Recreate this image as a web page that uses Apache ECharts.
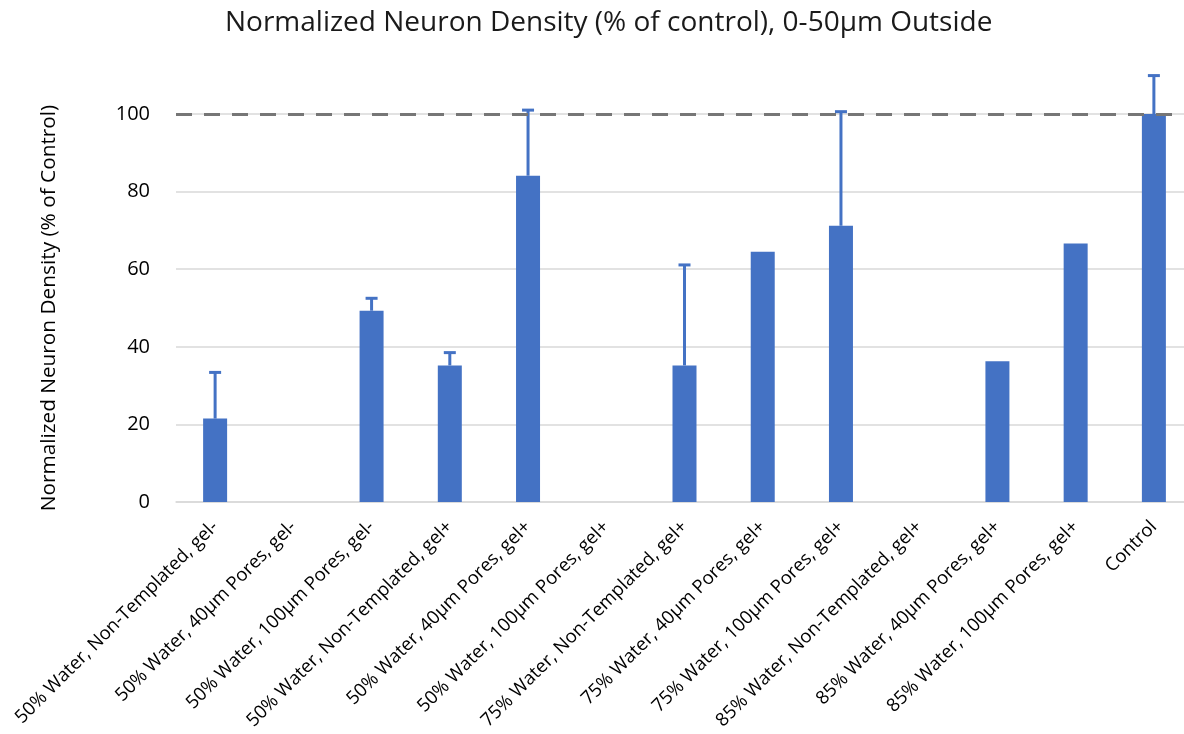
<!DOCTYPE html>
<html>
<head>
<meta charset="utf-8">
<script src="https://cdn.jsdelivr.net/npm/echarts@6/dist/echarts.min.js"></script>
<style>
  html, body { margin: 0; padding: 0; background: #fff; }
  #chart { width: 1184px; height: 734px; }
</style>
</head>
<body>
<div id="chart"></div>
<script>
// Groups along the x axis
const categories = [
  '50% Water, Non-Templated, gel-',
  '50% Water, 40µm Pores, gel-',
  '50% Water, 100µm Pores, gel-',
  '50% Water, Non-Templated, gel+',
  '50% Water, 40µm Pores, gel+',
  '50% Water, 100µm Pores, gel+',
  '75% Water, Non-Templated, gel+',
  '75% Water, 40µm Pores, gel+',
  '75% Water, 100µm Pores, gel+',
  '85% Water, Non-Templated, gel+',
  '85% Water, 40µm Pores, gel+',
  '85% Water, 100µm Pores, gel+',
  'Control'
];

// Mean normalized density (% of control); null = no data
const density = [21.5, null, 49.3, 35.2, 84.1, null, 35.2, 64.5, 71.2, null, 36.3, 66.6, 100];

// Upper end of the error bar; null = no error bar
const errorTop = [33.4, null, 52.5, 38.5, 101.0, null, 61.1, null, 100.6, null, null, null, 109.9];

// Reference level
const referenceLevel = 100;

const yTicks = [0, 20, 40, 60, 80, 100];

const barColor = '#4472C4';
const font = 'Open Sans';

const errorData = [];
density.forEach((v, i) => {
  if (v != null && errorTop[i] != null) errorData.push([i, v, errorTop[i]]);
});

const chart = echarts.init(document.getElementById('chart'), null, { renderer: 'canvas' });

chart.setOption({
  animation: false,
  backgroundColor: '#ffffff',
  title: {
    text: 'Normalized Neuron Density (% of control), 0-50µm Outside',
    left: 220,
    top: 4,
    textStyle: { fontFamily: font, fontSize: 28, fontWeight: 'normal', color: '#1a1a1a' }
  },
  // plot area runs slightly past the right edge of the canvas
  grid: { left: 176, width: 1017, top: 114, bottom: 232, containLabel: false, outerBoundsMode: 'none' },
  xAxis: {
    type: 'category',
    data: categories,
    axisLine: { show: true, lineStyle: { color: '#d9d9d9', width: 1.5 } },
    axisTick: { show: false },
    axisLabel: {
      interval: 0,
      rotate: 45,
      margin: 22,
      fontFamily: font,
      fontSize: 18.5,
      color: '#000000'
    }
  },
  yAxis: {
    type: 'value',
    min: yTicks[0],
    max: yTicks[yTicks.length - 1],
    interval: 20,
    name: 'Normalized Neuron Density (% of Control)',
    nameLocation: 'middle',
    nameGap: 116,
    nameTextStyle: { fontFamily: font, fontSize: 20.8, color: '#000000' },
    axisLine: { show: false },
    axisTick: { show: false },
    axisLabel: { margin: 26, fontFamily: font, fontSize: 20, color: '#000000' },
    splitLine: { show: true, lineStyle: { color: '#d9d9d9', width: 1.5 } }
  },
  series: [
    {
      type: 'bar',
      data: density,
      barWidth: 24,
      itemStyle: { color: barColor },
      markLine: {
        silent: true,
        symbol: 'none',
        label: { show: false },
        lineStyle: { color: '#767676', width: 3, type: [16, 12] },
        data: [{ yAxis: referenceLevel }]
      },
      z: 2
    },
    {
      type: 'custom',
      data: errorData,
      clip: false,
      z: 3,
      renderItem: function (params, api) {
        const i = api.value(0);
        const base = api.coord([i, api.value(1)]);
        const top = api.coord([i, api.value(2)]);
        const half = 6;
        const style = { stroke: barColor, lineWidth: 3, fill: null };
        return {
          type: 'group',
          children: [
            { type: 'line', shape: { x1: base[0], y1: base[1], x2: top[0], y2: top[1] }, style: style },
            { type: 'line', shape: { x1: top[0] - half, y1: top[1], x2: top[0] + half, y2: top[1] }, style: style }
          ]
        };
      }
    }
  ]
});
</script>
</body>
</html>
